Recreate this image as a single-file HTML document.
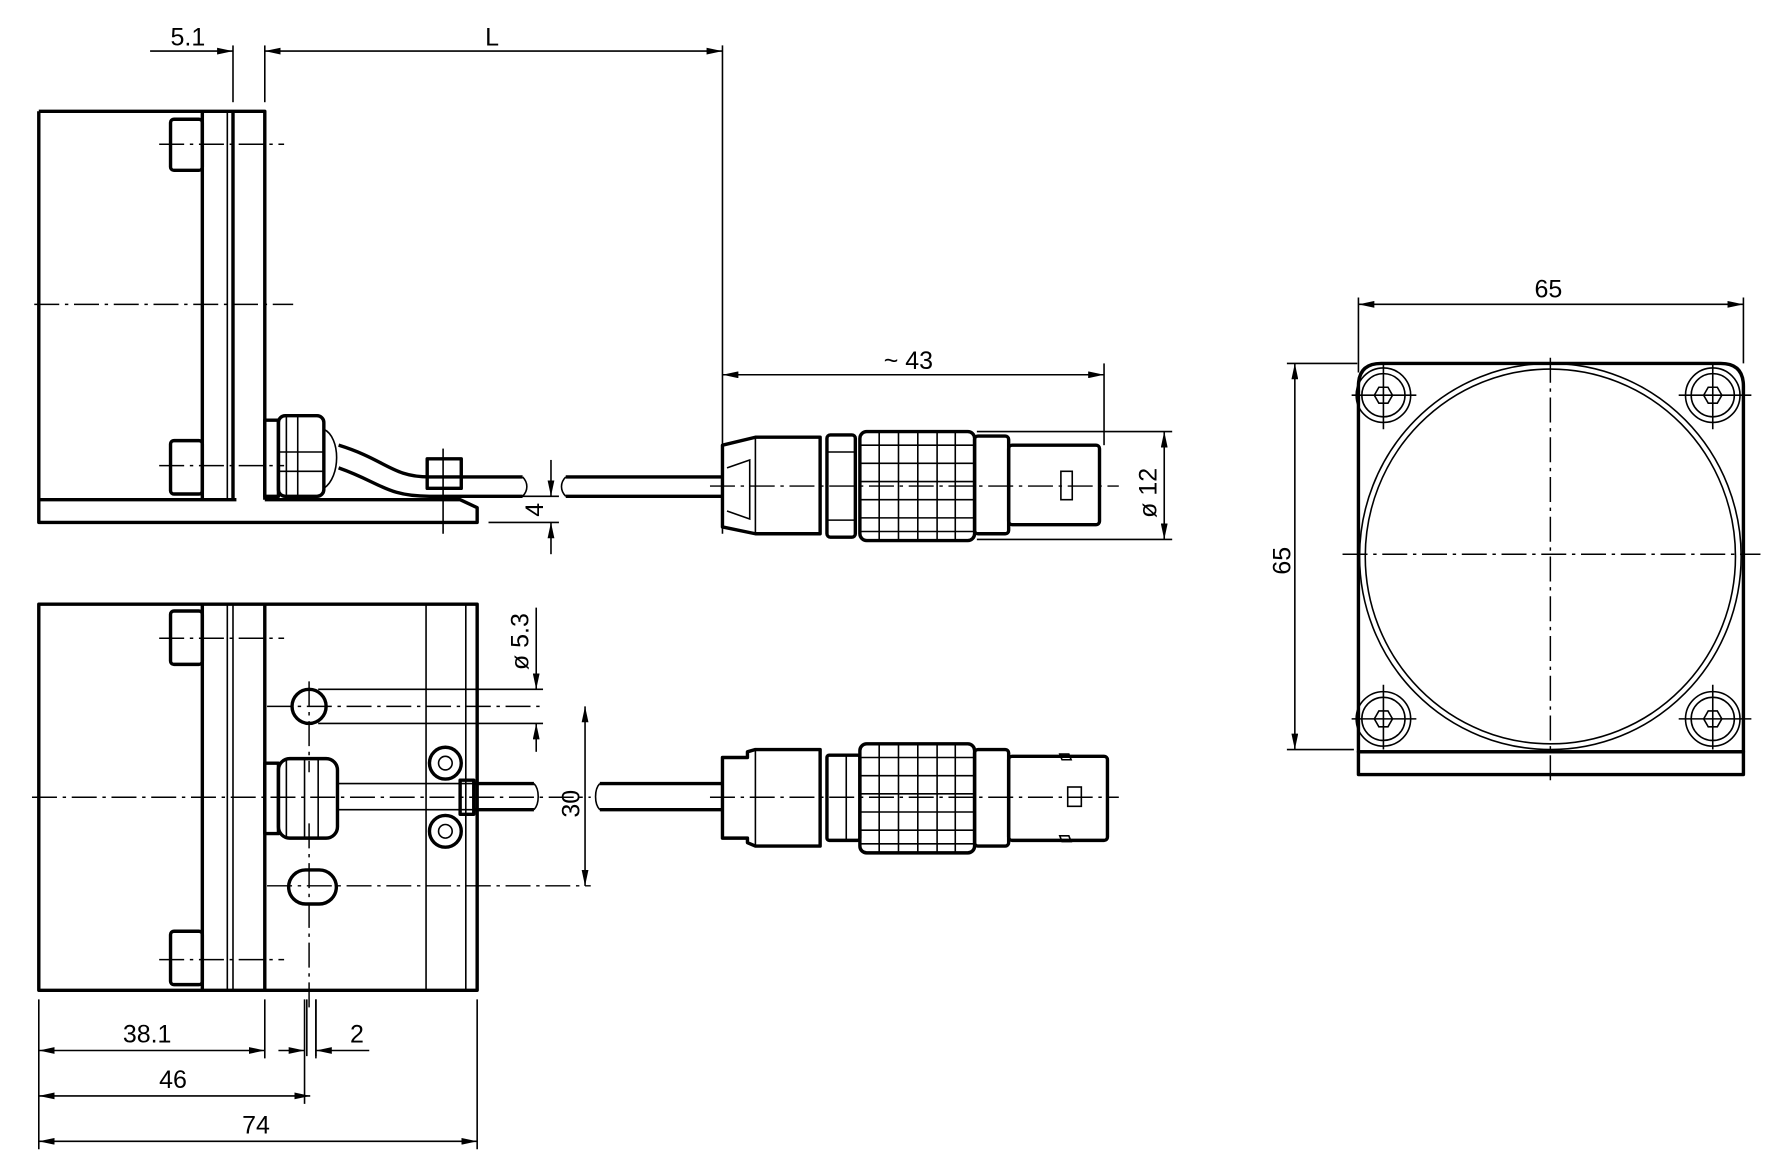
<!DOCTYPE html>
<html><head><meta charset="utf-8"><style>
html,body{margin:0;padding:0;background:#fff}
svg{display:block}
text{font-family:"Liberation Sans",sans-serif;font-size:22px;fill:#000}
.k{stroke:#000;stroke-width:3;fill:none;stroke-linejoin:round}
.t{stroke:#000;stroke-width:1.4;fill:none}
.c{stroke:#000;stroke-width:1.3;fill:none;stroke-dasharray:22 5 3 5}
</style></head><body>
<svg width="1772" height="1172" viewBox="0 0 1560 1032" xmlns="http://www.w3.org/2000/svg">
<defs>
<marker id="a" viewBox="0 0 14 6" refX="14" refY="3" markerWidth="14" markerHeight="6" orient="auto-start-reverse" markerUnits="userSpaceOnUse"><path d="M0,0L14,3L0,6z" fill="#000"/></marker>
<g id="knurl">
<rect x="757" y="0" width="101" height="96" rx="6" class="k"/>
<path class="t" d="M774 0v96M791 0v96M808 0v96M825 0v96M841 0v96M757 12h101M757 28h101M757 44h101M757 60h101M757 76h101M757 88h101" stroke-width="2.2"/>
</g>
</defs>

<!-- ===== TOP LEFT VIEW ===== -->
<text x="150" y="40">5.1</text>
<text x="427" y="40">L</text>
<line class="t" x1="132" y1="45" x2="205" y2="45" marker-end="url(#a)"/>
<line class="t" x1="636" y1="45" x2="233" y2="45" marker-end="url(#a)" marker-start="url(#a)"/>
<line class="t" x1="205" y1="40" x2="205" y2="90"/>
<line class="t" x1="233" y1="40" x2="233" y2="90"/>
<line class="t" x1="636" y1="40" x2="636" y2="470"/>
<path class="k" d="M34 98H233V440M34 98V460H420V447L405 440H233M178 98V440M205 98V440M34 440H208"/>
<line class="t" x1="200" y1="98" x2="200" y2="440"/>
<rect class="k" x="150" y="105" width="28" height="45" rx="3" stroke-width="2"/>
<rect class="k" x="150" y="388" width="28" height="47" rx="3" stroke-width="2"/>
<path class="c" d="M140 127H250M140 410H250M30 268H258"/>
<!-- gland -->
<rect class="k" x="233" y="370" width="12" height="67" stroke-width="2.2"/>
<rect class="k" x="245" y="366" width="40" height="71" rx="6" stroke-width="2.2"/>
<path class="t" d="M252 366V437M262 366V437M285 378C300 385 300 420 285 430M245 398H285M245 415H285"/>
<path class="k" stroke-width="2" d="M298 392C340 405 345 420 378 420H460M298 412C335 425 340 437 378 437H460"/>
<rect class="k" x="376" y="404" width="30" height="26" stroke-width="2"/>
<path class="t" d="M390 395V470"/>
<path class="t" d="M460 420C465 425 465 432 460 437M498 420C493 425 493 432 498 437"/>
<path class="k" stroke-width="2" d="M498 420H636M498 437H636"/>
<!-- dim 4 -->
<path class="t" d="M430 437H492M430 460H492"/>
<line class="t" x1="485" y1="405" x2="485" y2="437" marker-end="url(#a)"/>
<line class="t" x1="485" y1="488" x2="485" y2="460" marker-end="url(#a)"/>
<text x="0" y="0" transform="translate(478,455) rotate(-90)">4</text>
<!-- connector top -->
<path class="k" d="M636 392L665 385H722V470H665L636 464Z"/>
<path class="t" d="M665 385V470M640 412L660 405V457L640 450"/>
<rect class="k" x="728" y="383" width="25" height="90" rx="3"/>
<path class="t" d="M728 398H753M728 458H753"/>
<use href="#knurl" y="380"/>
<rect class="k" x="858" y="384" width="30" height="86" rx="3"/>
<rect class="k" x="888" y="392" width="80" height="70" rx="3"/>
<rect class="t" x="934" y="415" width="10" height="25"/>
<path class="c" d="M625 428H985"/>
<!-- dim ~43 -->
<line class="t" x1="636" y1="330" x2="972" y2="330" marker-start="url(#a)" marker-end="url(#a)"/>
<line class="t" x1="972" y1="320" x2="972" y2="392"/>
<text x="778" y="325">~ 43</text>
<!-- dim ø12 -->
<path class="t" d="M860 380H1032M860 475H1032"/>
<line class="t" x1="1025" y1="380" x2="1025" y2="475" marker-start="url(#a)" marker-end="url(#a)"/>
<text transform="translate(1018,456) rotate(-90)">ø 12</text>

<!-- ===== BOTTOM LEFT VIEW ===== -->
<path class="k" d="M34 532H420V872H34ZM178 532V872M233 532V872"/>
<path class="t" d="M200 532V872M205 532V872M375 532V872M410 532V872"/>
<rect class="k" x="150" y="538" width="28" height="47" rx="3" stroke-width="2"/>
<rect class="k" x="150" y="820" width="28" height="47" rx="3" stroke-width="2"/>
<path class="c" d="M140 562H250M140 845H250M28 702H520"/>
<circle class="k" cx="272" cy="622" r="15" stroke-width="2"/>
<rect class="k" x="254" y="766" width="42" height="30" rx="15" stroke-width="2"/>
<path class="c" d="M235 622H478M235 780H520M272 600V680M272 725V890"/>
<path class="t" d="M280 607H478M280 637H478M270 880V930M278 880V930"/>
<!-- ø5.3 -->
<line class="t" x1="472" y1="535" x2="472" y2="607" marker-end="url(#a)"/>
<line class="t" x1="472" y1="662" x2="472" y2="637" marker-end="url(#a)"/>
<text transform="translate(465,590) rotate(-90)">ø 5.3</text>
<!-- 30 -->
<line class="t" x1="515" y1="622" x2="515" y2="780" marker-start="url(#a)" marker-end="url(#a)"/>
<text transform="translate(510,720) rotate(-90)">30</text>
<!-- gland -->
<rect class="k" x="233" y="672" width="12" height="62" stroke-width="2.2"/>
<rect class="k" x="245" y="668" width="52" height="70" rx="10" stroke-width="2.2"/>
<path class="t" d="M252 668V738M268 668V738M280 668V738"/>
<path class="t" d="M297 690H430M297 713H430"/>
<circle class="k" cx="392" cy="672" r="14"/>
<circle class="t" cx="392" cy="672" r="6"/>
<circle class="k" cx="392" cy="732" r="14"/>
<circle class="t" cx="392" cy="732" r="6"/>
<rect class="k" x="405" y="687" width="12" height="30" stroke-width="2"/>
<path class="k" d="M417 690H470M417 713H470" stroke-width="2.5"/>
<path class="t" d="M470 690C475 695 475 708 470 713M528 690C523 695 523 708 528 713"/>
<path class="k" d="M528 690H636M528 713H636" stroke-width="2"/>
<!-- connector bottom -->
<path class="k" d="M636 667H658V662L665 660H722V745H665L658 742V738H636Z"/>
<path class="t" d="M665 660V745"/>
<rect class="k" x="728" y="665" width="29" height="75" rx="2"/>
<path class="t" d="M745 665V740"/>
<use href="#knurl" y="655"/>
<rect class="k" x="858" y="660" width="30" height="85" rx="3"/>
<rect class="k" x="888" y="666" width="87" height="74" rx="3"/>
<rect class="t" x="940" y="693" width="12" height="17"/>
<path class="t" d="M933 664h8l2 5h-8zM933 736h8l2 5h-8z"/>
<path class="c" d="M625 702H985"/>
<!-- bottom dims -->
<path class="t" d="M34 880V1012M233 880V932M268 880V972M278 880V932M420 880V1012"/>
<line class="t" x1="34" y1="925" x2="233" y2="925" marker-start="url(#a)" marker-end="url(#a)"/>
<line class="t" x1="245" y1="925" x2="268" y2="925" marker-end="url(#a)"/>
<line class="t" x1="325" y1="925" x2="278" y2="925" marker-end="url(#a)"/>
<line class="t" x1="34" y1="965" x2="273" y2="965" marker-start="url(#a)" marker-end="url(#a)"/>
<line class="t" x1="34" y1="1005" x2="420" y2="1005" marker-start="url(#a)" marker-end="url(#a)"/>
<text x="108" y="918">38.1</text>
<text x="308" y="918">2</text>
<text x="140" y="958">46</text>
<text x="213" y="998">74</text>

<!-- ===== RIGHT VIEW ===== -->
<path class="k" d="M1196 662V340Q1196 320 1216 320H1515Q1535 320 1535 340V662Z"/>
<rect class="k" x="1196" y="662" width="339" height="20"/>
<ellipse class="t" cx="1365" cy="490" rx="168" ry="170" stroke-width="2"/>
<ellipse class="t" cx="1365" cy="490" rx="163" ry="165" stroke-width="1.5"/>
<g class="t">
<circle cx="1218" cy="348" r="24"/><circle cx="1218" cy="348" r="19"/>
<circle cx="1508" cy="348" r="24"/><circle cx="1508" cy="348" r="19"/>
<circle cx="1218" cy="633" r="24"/><circle cx="1218" cy="633" r="19"/>
<circle cx="1508" cy="633" r="24"/><circle cx="1508" cy="633" r="19"/>
<path d="M1210 348l4-7h8l4 7-4 7h-8z M1500 348l4-7h8l4 7-4 7h-8z M1210 633l4-7h8l4 7-4 7h-8z M1500 633l4-7h8l4 7-4 7h-8z"/>
<path d="M1190 348H1247M1218 320V378M1478 348H1542M1508 320V378M1190 633H1247M1218 603V660M1478 633H1542M1508 603V660"/>
</g>
<path class="c" d="M1365 315V690M1182 488H1550"/>
<path class="t" d="M1196 262V328M1535 262V320M1133 320H1195M1133 660H1192"/>
<line class="t" x1="1196" y1="268" x2="1535" y2="268" marker-start="url(#a)" marker-end="url(#a)"/>
<line class="t" x1="1140" y1="320" x2="1140" y2="660" marker-start="url(#a)" marker-end="url(#a)"/>
<text x="1351" y="262">65</text>
<text transform="translate(1136,506) rotate(-90)">65</text>
</svg>
</body></html>
